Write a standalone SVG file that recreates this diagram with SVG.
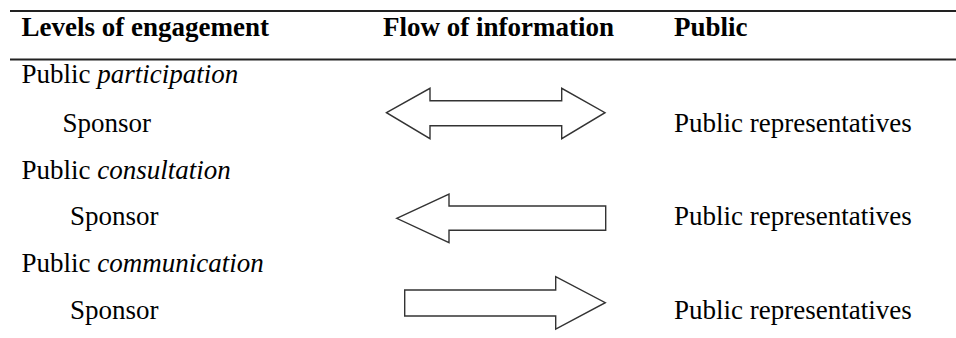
<svg xmlns="http://www.w3.org/2000/svg" width="956" height="338" viewBox="0 0 956 338">
<style>
text{font-family:"Liberation Serif","Times New Roman",serif;font-size:27px;fill:#000}
.h{font-weight:bold}
.i{font-style:italic}
.rule{stroke:#222;stroke-width:2.2}
.arr{fill:#fff;stroke:#333;stroke-width:1.4;stroke-linejoin:miter}
</style>
<rect width="956" height="338" fill="#fff"/>
<g id="rules">
<line class="rule" x1="10" y1="11" x2="956" y2="11"/>
<line class="rule" x1="10" y1="59.5" x2="956" y2="59.5"/>
</g>
<g id="header">
<text class="h" x="21.5" y="36">Levels of engagement</text>
<text class="h" x="383" y="36">Flow of information</text>
<text class="h" x="674" y="36">Public</text>
</g>
<g id="participation">
<text x="21.5" y="83">Public <tspan class="i">participation</tspan></text>
<text x="62.5" y="131.5">Sponsor</text>
<text x="674" y="131.5">Public representatives</text>
</g>
<g id="consultation">
<text x="21.5" y="178.5">Public <tspan class="i">consultation</tspan></text>
<text x="70" y="225">Sponsor</text>
<text x="674" y="225">Public representatives</text>
</g>
<g id="communication">
<text x="21.5" y="272">Public <tspan class="i">communication</tspan></text>
<text x="70" y="318.5">Sponsor</text>
<text x="674" y="318.5">Public representatives</text>
</g>
<g id="connectors">
<polygon class="arr" points="386.5,112.7 430,88.3 430,100.7 561.7,100.7 561.7,88.3 605,112.7 561.7,138.7 561.7,125.7 430,125.7 430,138.7"/>
<polygon class="arr" points="396.7,218.3 449,194 449,206 605.7,206 605.7,230.3 449,230.3 449,242.7"/>
<polygon class="arr" points="404.7,290 555.7,290 555.7,276.7 605.3,302.7 555.7,329 555.7,316 404.7,316"/>
</g>
</svg>
